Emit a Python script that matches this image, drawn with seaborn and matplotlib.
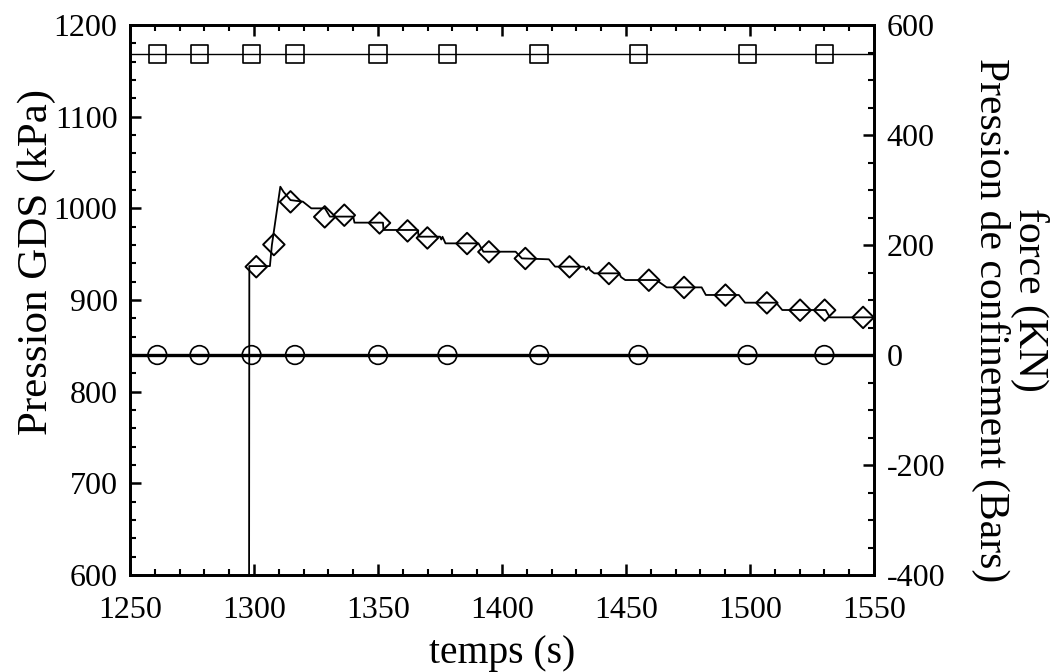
import numpy as np
import pandas as pd
import matplotlib
matplotlib.use("Agg")
import matplotlib.pyplot as plt
from matplotlib.ticker import MultipleLocator
import seaborn as sns

# ---------------- data ----------------
# marker times shared by square and circle series (s)
marker_t = [1261, 1278, 1299, 1316.5, 1350, 1378, 1415, 1455, 1499, 1530]
square_value = 547      # right axis (Pression de confinement)
circle_value = 0        # right axis (force)
hline_t = [1250, 1550]  # full-width span of the constant series

# Pression GDS line (left axis)
gds_line_t = [1298.0, 1298.1, 1306.4, 1307.2, 1310.6, 1311.9, 1314.7, 1319.7, 1323.1,
              1328.6, 1330.6, 1340.0, 1340.5, 1352.0, 1352.2, 1366.0, 1366.4, 1375.0,
              1375.5, 1376.0, 1377.2, 1390.5, 1392.5, 1405.5, 1408.0, 1418.9, 1421.4,
              1433.0, 1434.0, 1435.0, 1435.5, 1437.2, 1447.2, 1448.0, 1449.7, 1462.2,
              1466.4, 1480.5, 1482.2, 1495.5, 1498.0, 1510.5, 1513.0, 1530.5, 1532.2,
              1550.0]
gds_line_p = [600, 937, 937, 960, 1023.6, 1018, 1009, 1007.3, 1000,
              1000, 991, 991, 984.4, 984.4, 976.4, 976.4, 969.1, 969.1,
              966, 969, 961.8, 961.8, 952.7, 952.7, 945.4, 944.4, 936.4,
              936.4, 933, 936, 932.7, 929.1, 929.1, 925, 921.8, 921.8,
              913.8, 913.8, 905.5, 905.5, 897.1, 897.1, 889.1, 889.1, 881.1,
              881.1]

# Pression GDS diamond markers
gds_mark_t = [1300.9, 1308.0, 1314.7, 1328.5, 1336.4, 1350.6, 1361.9, 1369.9, 1385.9, 1394.7,
              1409.4, 1427.2, 1443.1, 1459.2, 1473.4, 1490.1, 1506.8, 1520.2, 1530.1, 1545.6]
gds_mark_p = [936.3, 960.5, 1007.1, 990.7, 992.5, 984.1, 975.4, 967.7, 961.6, 952.5,
              945.3, 936.2, 928.9, 921.6, 913.7, 905.3, 896.9, 888.9, 888.9, 881.0]

x_ticks = [1250, 1300, 1350, 1400, 1450, 1500, 1550]
left_ticks = [600, 700, 800, 900, 1000, 1100, 1200]
right_ticks = [-400, -200, 0, 200, 400, 600]

xlabel = "temps (s)"
ylabel_left = "Pression GDS (kPa)"
ylabel_right_1 = "force (KN)"
ylabel_right_2 = "Pression de confinement (Bars)"

# ---------------- style ----------------
sns.set_style("ticks")
plt.rcParams["font.family"] = ["Liberation Serif", "DejaVu Serif"]
plt.rcParams["axes.unicode_minus"] = False
for k in ("text.color", "axes.labelcolor", "xtick.color", "ytick.color"):
    plt.rcParams[k] = "black"

fig = plt.figure(figsize=(10.59, 6.72), dpi=100)
ax = fig.add_axes([0.1228, 0.1443, 0.7025, 0.8185])
ax2 = ax.twinx()

line_df = pd.DataFrame({"t": gds_line_t, "p": gds_line_p})
mark_df = pd.DataFrame({"t": gds_mark_t, "p": gds_mark_p})
sq_line = pd.DataFrame({"t": hline_t, "v": [square_value] * 2})
ci_line = pd.DataFrame({"t": hline_t, "v": [circle_value] * 2})
sq_mark = pd.DataFrame({"t": marker_t, "v": [square_value] * len(marker_t)})
ci_mark = pd.DataFrame({"t": marker_t, "v": [circle_value] * len(marker_t)})

sns.lineplot(data=line_df, x="t", y="p", ax=ax, sort=False, color="black", lw=1.3,
             estimator=None)
sns.scatterplot(data=mark_df, x="t", y="p", ax=ax, marker="D", s=120,
                facecolor="none", edgecolor="black", linewidth=1.4, zorder=5)

sns.lineplot(data=sq_line, x="t", y="v", ax=ax2, color="black", lw=1.0, estimator=None)
sns.lineplot(data=ci_line, x="t", y="v", ax=ax2, color="black", lw=2.4, estimator=None)
sns.scatterplot(data=sq_mark, x="t", y="v", ax=ax2, marker="s", s=160,
                facecolor="none", edgecolor="black", linewidth=1.2, zorder=5)
sns.scatterplot(data=ci_mark, x="t", y="v", ax=ax2, marker="o", s=180,
                facecolor="none", edgecolor="black", linewidth=1.2, zorder=5)

ax.set_xlim(1250, 1550)
ax.set_ylim(600, 1200)
ax2.set_ylim(-400, 600)
ax.set_xticks(x_ticks)
ax.set_yticks(left_ticks)
ax2.set_yticks(right_ticks)
ax.xaxis.set_minor_locator(MultipleLocator(10))
ax.yaxis.set_minor_locator(MultipleLocator(20))
ax2.yaxis.set_minor_locator(MultipleLocator(50))

for a in (ax, ax2):
    for s in a.spines.values():
        s.set_visible(True)
        s.set_linewidth(2.0)
        s.set_color("black")

ax.tick_params(axis="x", which="both", direction="in", top=True, bottom=True,
               labelsize=23, pad=15)
ax.tick_params(axis="y", which="both", direction="in", left=True, right=False,
               labelsize=23, pad=9)
ax.tick_params(which="major", length=8, width=1.8)
ax.tick_params(which="minor", length=4, width=1.5)
ax2.tick_params(axis="y", which="both", direction="in", right=True, left=False,
                labelsize=23, pad=9)
ax2.tick_params(which="major", length=8, width=1.8)
ax2.tick_params(which="minor", length=4, width=1.5)

ax.set_xlabel(xlabel, fontsize=28.5, labelpad=7)
ax.set_ylabel(ylabel_left, fontsize=31)
ax.yaxis.set_label_coords(-0.1, 0.569)
ax2.set_ylabel("")

fig.text(1030 / 1059, 1 - 300 / 672, ylabel_right_1, fontsize=30, rotation=-90,
         ha="center", va="center")
fig.text(991 / 1059, 1 - 320 / 672, ylabel_right_2, fontsize=30, rotation=-90,
         ha="center", va="center")

fig.savefig("out.png", dpi=100, facecolor="white")
